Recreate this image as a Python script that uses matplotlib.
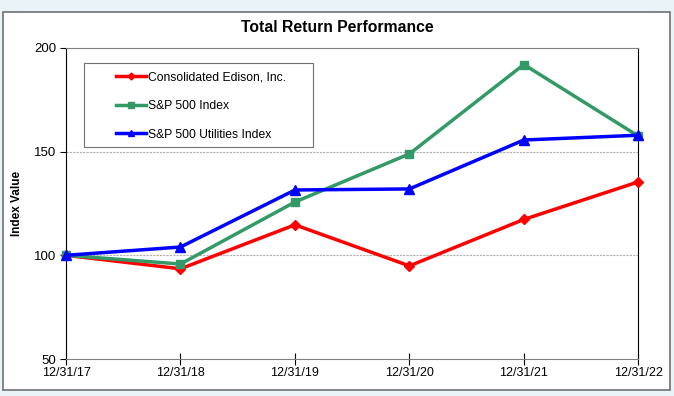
import matplotlib.pyplot as plt
from matplotlib.patches import Rectangle

plt.rcParams['font.family'] = ['Liberation Sans', 'DejaVu Sans']

dates = ['12/31/17', '12/31/18', '12/31/19', '12/31/20', '12/31/21', '12/31/22']
con_ed = [100, 93.5, 114.7, 94.9, 117.3, 135.4]
sp500 = [100, 95.8, 125.7, 148.9, 192.0, 157.5]
sp_util = [100, 104.0, 131.5, 132.0, 155.6, 157.9]

fig = plt.figure(figsize=(6.74, 3.96), dpi=100)
fig.patch.set_facecolor('#eaf3f8')
fig.patches.append(Rectangle((0.005, 0.015), 0.989, 0.955, transform=fig.transFigure,
                             facecolor='white', edgecolor='#707070', linewidth=1.2, zorder=-5))

ax = fig.add_axes([0.098, 0.0934, 0.849, 0.7856])
ax.set_facecolor('white')
x = list(range(len(dates)))

ax.plot(x, con_ed, color='#ff0000', lw=2.5, marker='D', ms=5, label='Consolidated Edison, Inc.',
        clip_on=False, zorder=3)
ax.plot(x, sp500, color='#339966', lw=2.5, marker='s', ms=6, label='S&P 500 Index',
        clip_on=False, zorder=3)
ax.plot(x, sp_util, color='#0000ff', lw=2.5, marker='^', ms=7, label='S&P 500 Utilities Index',
        clip_on=False, zorder=3)

ax.set_xlim(0, 5)
ax.set_ylim(50, 200)
ax.set_yticks([50, 100, 150, 200])
ax.set_xticks(x)
ax.set_xticklabels(dates)
for y in (100, 150):
    ax.axhline(y, color='#b0b0b0', lw=0.8, ls=(0, (2, 1)), zorder=0)

ax.spines['top'].set_color('#808080')
ax.spines['bottom'].set_color('#808080')
ax.spines['left'].set_color('black')
ax.spines['right'].set_color('black')
ax.tick_params(axis='x', direction='inout', length=8, labelsize=9, pad=2, color='black')
ax.tick_params(axis='y', direction='out', length=4, labelsize=9.5, pad=3)

ax.set_ylabel('Index Value', fontsize=8.5, fontweight='bold', labelpad=8)
fig.text(0.5, 0.93, 'Total Return Performance', ha='center', va='center',
         fontsize=11.3, fontweight='bold')

# legend frame drawn separately so the left padding matches
ax.add_patch(Rectangle((0.031, 0.682), 0.401, 0.270, transform=ax.transAxes, fill=False,
                       edgecolor='#707070', lw=0.8, zorder=4))
leg = ax.legend(loc='upper left', bbox_to_anchor=(0.087, 0.925), frameon=False,
                fontsize=8.7, handlelength=2.5, labelspacing=1.38, markerscale=0.7,
                borderpad=0, handletextpad=0.15, borderaxespad=0)

fig.savefig('out.png', dpi=100, facecolor=fig.get_facecolor())
